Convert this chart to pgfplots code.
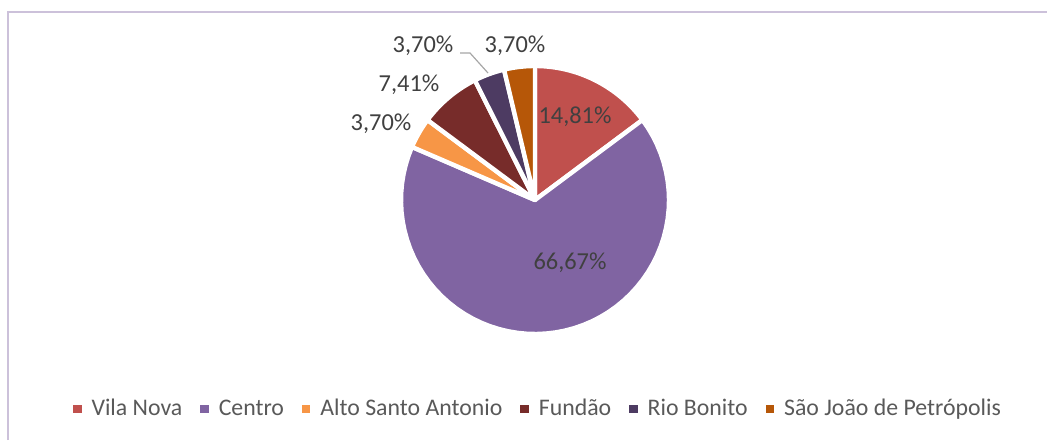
\documentclass[border=0pt]{standalone}
\usepackage{pgfplots}
\pgfplotsset{compat=1.18}
\usepackage{fontspec}
\setmainfont{Carlito}
\definecolor{cVN}{HTML}{C0504D}
\definecolor{cCE}{HTML}{8064A2}
\definecolor{cAS}{HTML}{F79646}
\definecolor{cFU}{HTML}{772C2A}
\definecolor{cRB}{HTML}{4D3B62}
\definecolor{cSJ}{HTML}{B65708}
\definecolor{cBorder}{HTML}{CCC1DA}
\definecolor{cLeg}{HTML}{595959}
\definecolor{cLab}{HTML}{404040}
\begin{document}
\begin{tikzpicture}
\begin{axis}[at={(0,0)},anchor=south west,
  width=523.5pt,height=220pt,scale only axis,
  xmin=0,xmax=1047,ymin=0,ymax=440,
  hide axis, clip=false,
  legend columns=6,
  legend style={at={(0.5148,0.0705)},anchor=center,draw=none,fill=none,
    font=\fontsize{11.9}{14}\selectfont, text=cLeg,
    /tikz/every even column/.append style={column sep=7pt},
    /tikz/every odd column/.append style={column sep=3pt}},
  legend image code/.code={\fill[#1,draw=none] (0pt,-2.1pt) rectangle (4.2pt,2.1pt);},
  every axis plot/.append style={draw=white, line width=2.2pt, line join=round, samples=60, variable=\t},
]
% Shares (%): Vila Nova 14.81, Centro 66.67, Alto Santo Antonio 3.70, Fundao 7.41, Rio Bonito 3.70, Sao Joao 3.70
% start at 90 deg, clockwise: angle = 90 - 3.6*cumulative
\addplot[fill=cVN, domain=36.684:90] ({535+134*cos(\t)},{240+134*sin(\t)}) -- (535,240) -- cycle;
\addlegendentry{Vila Nova}
\addplot[fill=cCE, domain=-203.328:36.684] ({535+134*cos(\t)},{240+134*sin(\t)}) -- (535,240) -- cycle;
\addlegendentry{Centro}
\addplot[fill=cAS, domain=-216.648:-203.328] ({535+134*cos(\t)},{240+134*sin(\t)}) -- (535,240) -- cycle;
\addlegendentry{Alto Santo Antonio}
\addplot[fill=cFU, domain=-243.324:-216.648] ({535+134*cos(\t)},{240+134*sin(\t)}) -- (535,240) -- cycle;
\addlegendentry{Fundão}
\addplot[fill=cRB, domain=-256.644:-243.324] ({535+134*cos(\t)},{240+134*sin(\t)}) -- (535,240) -- cycle;
\addlegendentry{Rio Bonito}
\addplot[fill=cSJ, domain=-270:-256.644] ({535+134*cos(\t)},{240+134*sin(\t)}) -- (535,240) -- cycle;
\addlegendentry{São João de Petrópolis}
\begin{scope}[font=\fontsize{12.2}{14}\selectfont, text=cLab]
\node at (575,323) {14,81\%};
\node at (570,177) {66,67\%};
\node at (381,316) {3,70\%};
\node at (409,355) {7,41\%};
\node at (423,394) {3,70\%};
\node at (515,394) {3,70\%};
\end{scope}
\draw[color=black!35, line width=0.6pt] (460,387) -- (470,387) -- (488,367);
\draw[color=cBorder, line width=0.75pt] (8,0) -- (8,428) -- (1047,428);
\end{axis}
\pgfresetboundingbox
\path (0,0) rectangle (523.5pt,220pt);
\end{tikzpicture}
\end{document}
